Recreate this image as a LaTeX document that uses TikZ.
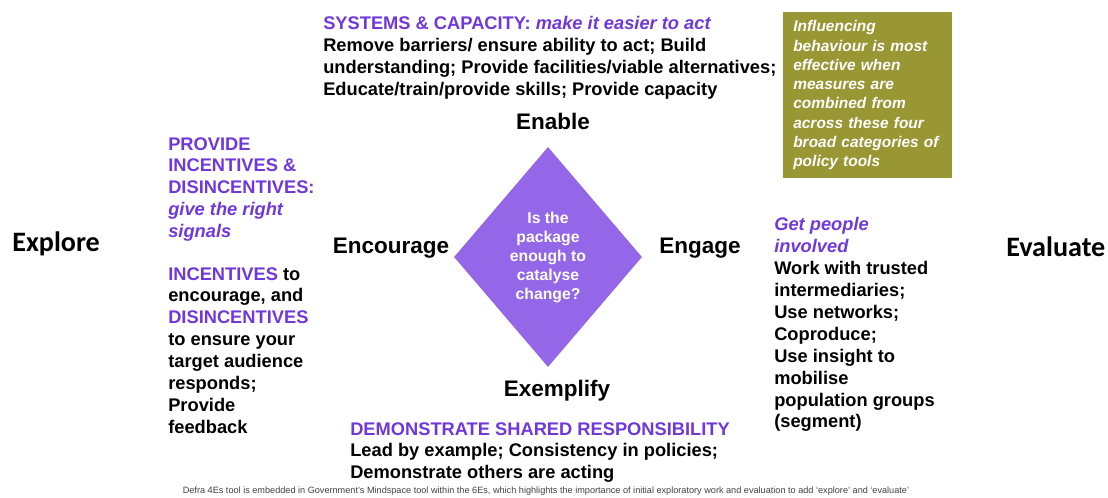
\documentclass[tikz,border=0pt]{standalone}
\usepackage{fontspec}
\setmainfont{Liberation Sans}
\newfontfamily\calibrifont{Carlito}
\usepackage{xcolor}
\usetikzlibrary{shapes.geometric,positioning}
\definecolor{headviolet}{RGB}{112,56,220}
\definecolor{diamondviolet}{RGB}{148,102,232}
\definecolor{boxolive}{RGB}{153,150,52}
\tikzstyle{bodytext} = [inner sep=0pt, anchor=north west, align=left, font=\bfseries\fontsize{13}{15.6}\selectfont]
\tikzstyle{stage} = [inner sep=0pt, anchor=base, font=\bfseries\fontsize{16}{19}\selectfont]
\tikzstyle{phase} = [inner sep=0pt, anchor=base west, font=\calibrifont\bfseries\fontsize{20}{24}\selectfont]
\newcommand{\hv}[1]{\textcolor{headviolet}{#1}}

\begin{document}
\begin{tikzpicture}[x=0.025cm, y=-0.025cm]
		\useasboundingbox (0,0) rectangle (1108,498);
		\coordinate (explore) at (12,251);
		\coordinate (evaluate) at (1006,256);
		\coordinate (enable) at (553,130);
		\coordinate (encourage) at (391,253);
		\coordinate (engage) at (700,253);
		\coordinate (exemplify) at (557,396);
		\coordinate (package) at (548,257);
		\coordinate (systems) at (323,16);
		\coordinate (incentives) at (168,137);
		\coordinate (signals) at (168,267);
		\coordinate (involved) at (774,217);
		\coordinate (shared) at (350,422);
		\coordinate (policybox) at (783,12);
		\coordinate (footnote) at (546,491);
		% Explore and evaluate
		\begin{scope}[every node/.style={phase}]
		\node[name=explore] at (explore) {Explore};
		\node[name=evaluate] at (evaluate) {Evaluate};
		\end{scope}
		% The four Es
		\begin{scope}[every node/.style={stage}]
		\node[name=enable] at (enable) {Enable};
		\node[name=encourage] at (encourage) {Encourage};
		\node[name=engage] at (engage) {Engage};
		\node[name=exemplify] at (exemplify) {Exemplify};
		\end{scope}
		% Diamond in the middle
		\node[name=package, diamond, aspect=0.855, fill=diamondviolet, minimum width=4.7cm, minimum height=5.5cm, inner sep=0pt, text=white, align=center, font=\bfseries\fontsize{11.2}{13.5}\selectfont] at (package) {Is the\\package\\enough to\\catalyse\\change?};
		% Text for each E
		\begin{scope}[every node/.style={bodytext}]
		\node[name=systems] at (systems) {\hv{SYSTEMS \& CAPACITY: \itshape make it easier to act}\\Remove barriers/ ensure ability to act; Build\\understanding; Provide facilities/viable alternatives;\\Educate/train/provide skills; Provide capacity};
		\node[name=incentives, text=headviolet] at (incentives) {PROVIDE\\INCENTIVES \&\\DISINCENTIVES:\\{\itshape give the right}\\{\itshape signals}};
		\node[name=signals] at (signals) {\hv{INCENTIVES} to\\encourage, and\\\hv{DISINCENTIVES}\\to ensure your\\target audience\\responds;\\Provide\\feedback};
		\node[name=involved] at (involved) {\hv{\itshape Get people}\\\hv{\itshape involved}\\Work with trusted\\intermediaries;\\Use networks;\\Coproduce;\\Use insight to\\mobilise\\population groups\\(segment)};
		\node[name=shared] at (shared) {\hv{DEMONSTRATE SHARED RESPONSIBILITY}\\Lead by example; Consistency in policies;\\Demonstrate others are acting};
		\end{scope}
		% Olive box
		\node[name=policybox, fill=boxolive, anchor=north west, minimum width=4.225cm, minimum height=4.15cm, text width=3.725cm, inner xsep=0.25cm, align=left, text=white, font=\bfseries\itshape\fontsize{11}{13.7}\selectfont] at (policybox) {Influencing\\behaviour is most\\effective when\\measures are\\combined from\\across these four\\broad categories of\\policy tools};
		% Footnote
		\node[name=footnote, text=black!75, font=\fontsize{6.5}{7.5}\selectfont] at (footnote) {Defra 4Es tool is embedded in Government's Mindspace tool within the 6Es, which highlights the importance of initial exploratory work and evaluation to add `explore' and `evaluate'};
\end{tikzpicture}
\end{document}
